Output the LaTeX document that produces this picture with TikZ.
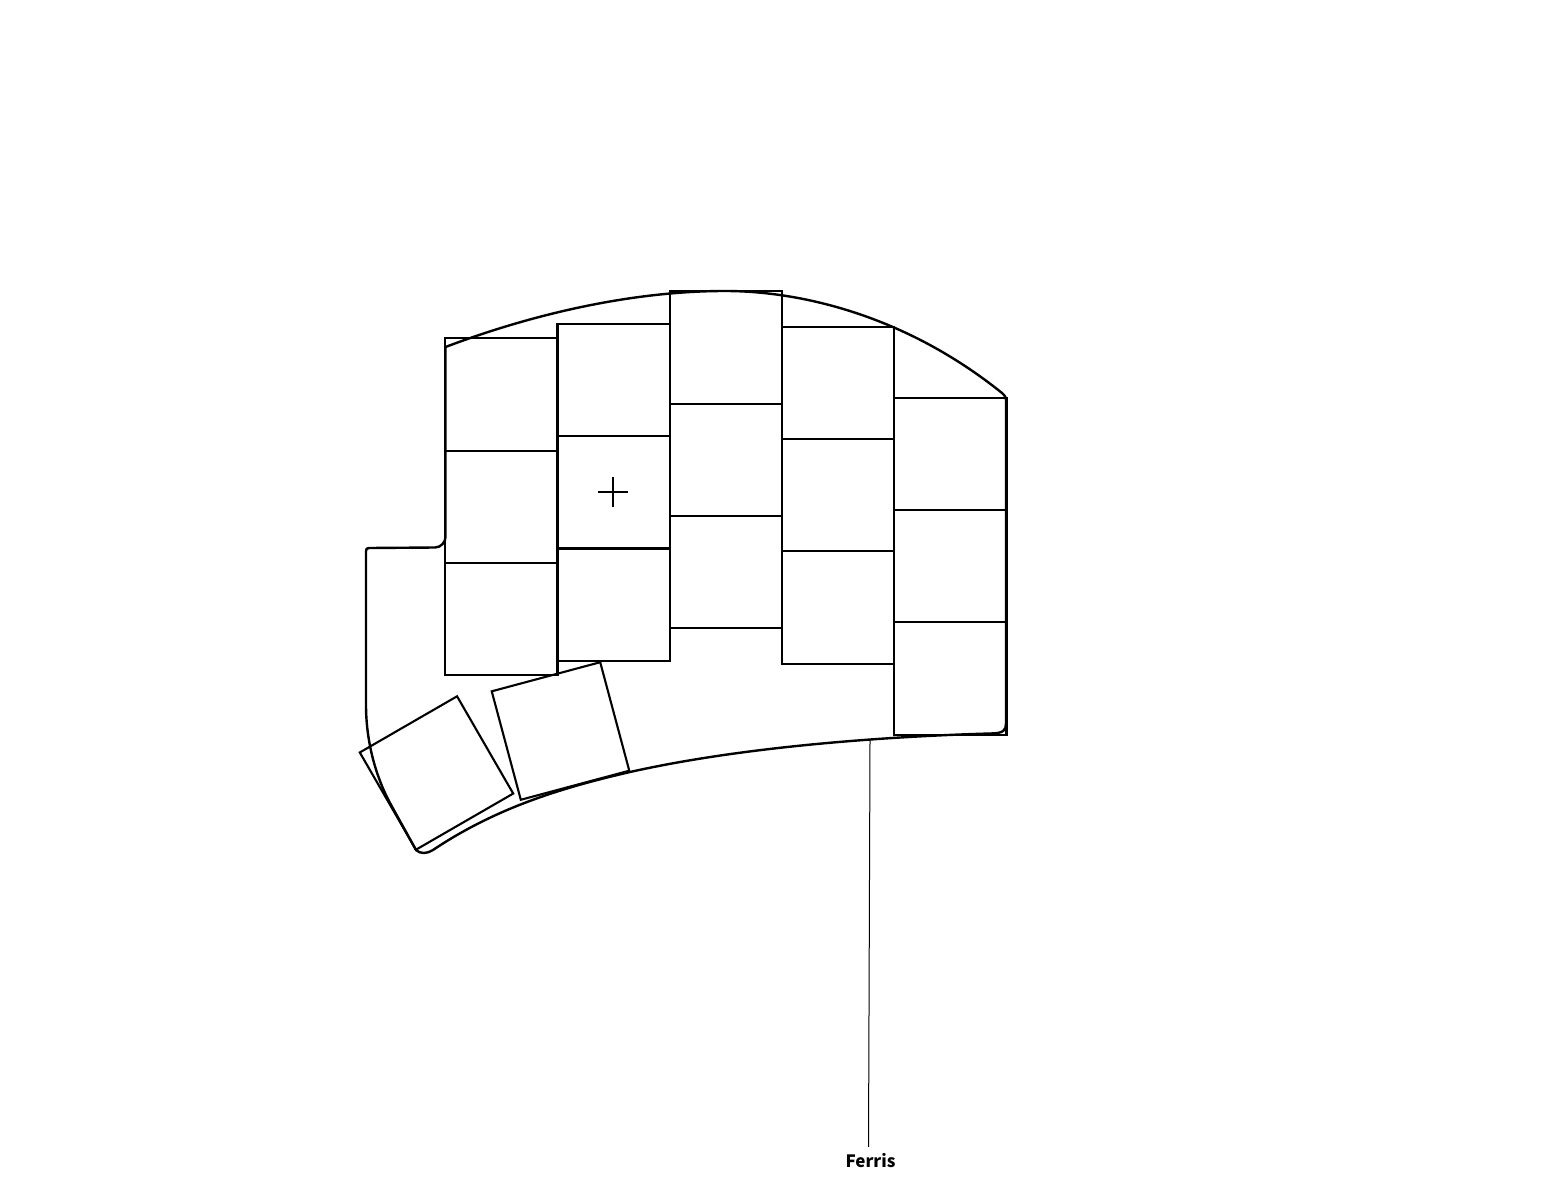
\documentclass[tikz,border=0pt]{standalone}
\usepackage{fontspec}
\setmainfont{Noto Sans CJK SC}
\tikzset{
	every node/.style={
		font=\bfseries\fontsize{8.5}{10}\selectfont
	},
	keycap/.style={
		shape=rectangle,
		minimum size=56.15pt,
		inner sep=0pt,
		outer sep=0pt,
		line width=1.05pt,
		draw
	},
	outline/.style={
		line width=1.2pt,
		line join=round
	},
	leader/.style={
		line width=0.5pt
	},
	centremark/.style={
		line width=0.65pt
	}
}

\begin{document}
\begin{tikzpicture}[x=0.5pt, y=0.5pt]
\useasboundingbox (0,0) rectangle (1566,1180);

% finger keys, three per column
\foreach \col/\x/\y in {a/501.35/785.4, b/613.65/800, c/725.95/832.6, d/838.1/797.1, e/950.3/726.1}
{
	\node [keycap] (\col1) at (\x,\y) {};
	\node [keycap] (\col2) at (\x,\y-112.3) {};
	\node [keycap] (\col3) at (\x,\y-224.6) {};
}

% thumb keys
\node [keycap, rotate=30] (thumb1) at (436.5,407) {};
\node [keycap, rotate=15] (thumb2) at (560.5,449) {};

% board edge
\draw [outline] (445.5,833)
	.. controls (530,865) and (630,889) .. (725,889)
	.. controls (800,889) and (905,865) .. (1002,787)
	.. controls (1005,784) and (1006,783) .. (1006,780)
	-- (1006,457)
	.. controls (1006,450) and (1004,446.5) .. (990,446.5)
	.. controls (900,444) and (750,435) .. (630,408)
	.. controls (570,394) and (500,375) .. (433,330)
	.. controls (427,326) and (420,326) .. (416,330)
	-- (390,377)
	.. controls (375,405) and (366,440) .. (366,475)
	-- (366,629)
	.. controls (366,631) and (367,632) .. (369,632)
	-- (435,632.5)
	.. controls (441,632.5) and (445.5,638) .. (445.5,643)
	-- cycle;

% centre mark
\coordinate (mark) at (613,688);
\draw [centremark] ([xshift=-7.5pt]mark) -- ([xshift=7.5pt]mark);
\draw [centremark] ([yshift=-7.5pt]mark) -- ([yshift=7.5pt]mark);

% label
\node (ferris) at (870.5,19) {Ferris};
\coordinate (ferrisedge) at (870,440);
\draw [leader] (ferrisedge) -- ([xshift=-1pt]ferris.north);

\end{tikzpicture}
\end{document}
